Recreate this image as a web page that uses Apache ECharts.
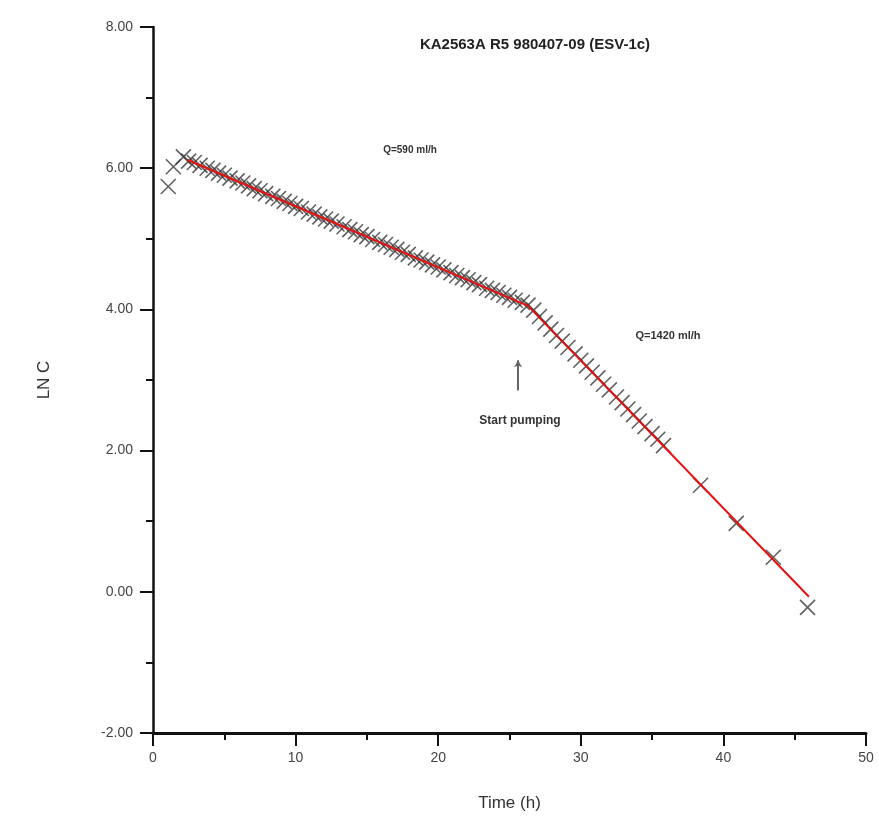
<!DOCTYPE html>
<html>
<head>
<meta charset="utf-8">
<script src="https://cdn.jsdelivr.net/npm/echarts@6/dist/echarts.min.js"></script>
<style>html,body{margin:0;padding:0;background:#fff}#c{width:879px;height:821px}</style>
</head>
<body>
<div id="c"></div>
<script>
// Measured data (Time h, LN C)
const earlyPoints = [[1.07, 5.74], [1.43, 6.02], [2.13, 6.16]];
const densePoints = [
  [2.5, 6.10], [2.9, 6.08], [3.3, 6.04], [3.8, 6.00], [4.2, 5.97], [4.6, 5.93], [5.0, 5.90], [5.4, 5.86],
  [5.9, 5.82], [6.3, 5.79], [6.7, 5.75], [7.1, 5.71], [7.5, 5.68], [7.9, 5.64], [8.4, 5.60], [8.8, 5.57],
  [9.2, 5.53], [9.6, 5.50], [10.0, 5.46], [10.4, 5.43], [10.9, 5.38], [11.3, 5.35], [11.7, 5.31], [12.1, 5.28],
  [12.5, 5.25], [12.9, 5.21], [13.4, 5.17], [13.8, 5.13], [14.2, 5.10], [14.6, 5.06], [15.0, 5.03], [15.4, 4.99],
  [15.9, 4.95], [16.3, 4.92], [16.7, 4.88], [17.1, 4.85], [17.5, 4.81], [17.9, 4.78], [18.4, 4.73], [18.8, 4.70],
  [19.2, 4.67], [19.6, 4.63], [20.0, 4.60], [20.4, 4.56], [20.9, 4.52], [21.3, 4.48], [21.7, 4.45], [22.1, 4.42],
  [22.5, 4.38], [22.9, 4.35], [23.4, 4.30], [23.8, 4.27], [24.2, 4.24], [24.6, 4.20], [25.0, 4.17], [25.4, 4.13],
  [25.9, 4.10], [26.3, 4.06],
  [26.7, 3.99], [27.1, 3.90], [27.5, 3.81], [27.9, 3.72], [28.3, 3.63], [28.7, 3.55], [29.1, 3.46], [29.6, 3.37],
  [30.0, 3.28], [30.4, 3.20], [30.8, 3.11], [31.2, 3.03], [31.6, 2.94], [32.0, 2.86], [32.5, 2.76], [32.9, 2.68],
  [33.3, 2.59], [33.7, 2.51], [34.1, 2.42], [34.5, 2.34], [35.0, 2.24], [35.4, 2.16], [35.8, 2.07]
];
const latePoints = [[38.4, 1.51], [40.9, 0.97], [43.5, 0.49], [45.9, -0.22]];
const fitLine = [[2.4, 6.12], [26.3, 4.05], [46.0, -0.07]];
const arrowFrom = [25.6, 2.85];
const arrowTo = [25.6, 3.28];
const xTicks = {min: 0, max: 50, interval: 10};
const yTicks = {min: -2, max: 8, interval: 2};

const chart = echarts.init(document.getElementById('c'));
const crossPath = 'path://M0,0 L10,10 M10,0 L0,10';
const markerStyle = {color: 'rgba(0,0,0,0)', borderColor: '#3a3a3a', borderWidth: 1.6};
const font = '"Liberation Sans", Arial, sans-serif';

chart.setOption({
  animation: false,
  backgroundColor: '#fff',
  grid: {left: 153, right: 13, top: 27, bottom: 88},
  xAxis: {
    type: 'value', min: xTicks.min, max: xTicks.max, interval: xTicks.interval,
    name: 'Time (h)', nameLocation: 'middle', nameGap: 62,
    nameTextStyle: {fontFamily: font, fontSize: 17, color: '#333'},
    axisLine: {onZero: false, lineStyle: {color: '#111', width: 3}},
    axisTick: {length: 13, lineStyle: {color: '#111', width: 2}},
    minorTick: {show: true, splitNumber: 2, length: 7, lineStyle: {color: '#111', width: 2}},
    splitLine: {show: false},
    axisLabel: {margin: 18, fontFamily: font, fontSize: 14, color: '#444'}
  },
  yAxis: {
    type: 'value', min: yTicks.min, max: yTicks.max, interval: yTicks.interval,
    name: 'LN C', nameLocation: 'middle', nameGap: 100, nameRotate: 90,
    nameTextStyle: {fontFamily: font, fontSize: 17, color: '#333'},
    axisLine: {lineStyle: {color: '#111', width: 2.5}},
    axisTick: {length: 13, lineStyle: {color: '#111', width: 2}},
    minorTick: {show: true, splitNumber: 2, length: 7, lineStyle: {color: '#111', width: 2}},
    splitLine: {show: false},
    axisLabel: {margin: 20, fontFamily: font, fontSize: 14, color: '#444', formatter: v => v.toFixed(2)}
  },
  graphic: [
    {type: 'text', x: 535, y: 45, style: {text: 'KA2563A R5 980407-09 (ESV-1c)', fontFamily: font, fontSize: 15, fontWeight: 'bold', fill: '#222', align: 'center', verticalAlign: 'middle'}},
    {type: 'text', x: 410, y: 150, style: {text: 'Q=590 ml/h', fontFamily: font, fontSize: 10, fontWeight: 'bold', fill: '#333', align: 'center', verticalAlign: 'middle'}},
    {type: 'text', x: 668, y: 336, style: {text: 'Q=1420 ml/h', fontFamily: font, fontSize: 11, fontWeight: 'bold', fill: '#333', align: 'center', verticalAlign: 'middle'}},
    {type: 'text', x: 520, y: 421, style: {text: 'Start pumping', fontFamily: font, fontSize: 12, fontWeight: 'bold', fill: '#333', align: 'center', verticalAlign: 'middle'}}
  ],
  series: [
    {
      type: 'scatter', data: earlyPoints.concat(densePoints, latePoints),
      symbol: crossPath, symbolSize: 15, itemStyle: markerStyle, z: 2
    },
    {
      type: 'line', data: fitLine, showSymbol: false, symbol: 'none',
      lineStyle: {color: '#e81010', width: 2}, z: 3,
      markLine: {
        silent: true, symbol: ['none', 'arrow'], symbolSize: [6, 7], label: {show: false},
        lineStyle: {color: '#666', width: 2, type: 'solid'},
        data: [[{coord: arrowFrom}, {coord: arrowTo}]]
      }
    }
  ]
});
</script>
</body>
</html>
